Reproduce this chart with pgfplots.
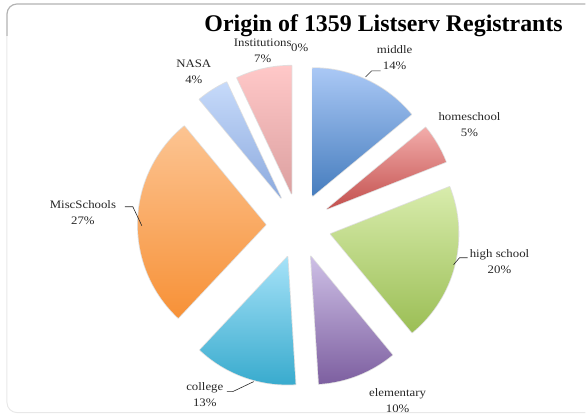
\documentclass[border=0pt]{standalone}
\usepackage{pgfplots}
\usepackage{pgfplotstable}
\pgfplotsset{compat=1.18}
\usepackage{fontspec}
\setmainfont{Liberation Serif}
\newfontfamily\lblfont[FakeStretch=1.12]{Liberation Serif}

% slice colours: lighter at the top, darker at the bottom
\definecolor{top0}{RGB}{170,200,245}\definecolor{bot0}{RGB}{70,125,190}
\definecolor{top1}{RGB}{242,172,170}\definecolor{bot1}{RGB}{195,80,78}
\definecolor{top2}{RGB}{216,236,172}\definecolor{bot2}{RGB}{155,190,85}
\definecolor{top3}{RGB}{206,192,230}\definecolor{bot3}{RGB}{125,95,160}
\definecolor{top4}{RGB}{166,226,248}\definecolor{bot4}{RGB}{55,170,205}
\definecolor{top5}{RGB}{252,196,146}\definecolor{bot5}{RGB}{247,145,55}
\definecolor{top6}{RGB}{198,218,250}\definecolor{bot6}{RGB}{140,170,222}
\definecolor{top7}{RGB}{255,200,200}\definecolor{bot7}{RGB}{220,160,160}

% percent of registrants, label position (px from left, px from bottom)
\pgfplotstableread{
name value lx ly
middle 14 395 358
homeschool 5 470 291
{high school} 20 500 154
elementary 10 398 15
college 13 205 21
MiscSchools 27 83 203
NASA 4 194 344
Institutions 7 263 365
}\piedata

\tikzset{lbl/.style={align=center, text=black!85, inner sep=0.5bp,
  font=\lblfont\fontsize{11.5}{16}\selectfont}}

\begin{document}
\begin{tikzpicture}
\begin{axis}[
  scale only axis, width=586bp, height=416bp,
  xmin=0, xmax=586, ymin=0, ymax=416,
  hide axis, clip=false]

\path (axis cs:0,0) rectangle (axis cs:586,416);
% chart frame
\draw[gray!18, line width=1bp, rounded corners=10bp]
  (axis cs:7,380) -- (axis cs:7,3) -- (axis cs:586,3);
\draw[gray!60, line width=1.2bp, rounded corners=10bp]
  (axis cs:7,380) -- (axis cs:7,412) -- (axis cs:586,412);

\node[anchor=base, inner sep=0.5bp, font=\bfseries\fontsize{24}{28}\selectfont]
  at (axis cs:384,384) {Origin of 1359 Listserv Registrants};

% exploded pie, centre (299,190), radius 128, explode 33
\xdef\cum{0}
\pgfplotsinvokeforeach{0,...,7}{
  \pgfplotstablegetelem{#1}{value}\of\piedata
  \let\val\pgfplotsretval
  \pgfmathsetmacro\a{90-3.6*\cum}
  \pgfmathsetmacro\b{90-3.6*(\cum+\val)}
  \pgfmathsetmacro\cx{299+33*cos((\a+\b)/2)}
  \pgfmathsetmacro\cy{190+33*sin((\a+\b)/2)}
  \edef\tmp{\noexpand\draw[black!12, line width=1.6bp, line join=round]
    (axis cs:\cx,\cy) -- ++(\a:128bp) arc[start angle=\a, end angle=\b, radius=128bp] -- cycle;
    \noexpand\shade[top color=top#1, bottom color=bot#1]
    (axis cs:\cx,\cy) -- ++(\a:128bp) arc[start angle=\a, end angle=\b, radius=128bp] -- cycle;}
  \tmp
  \pgfmathsetmacro\cumnew{\cum+\val}
  \xdef\cum{\cumnew}
  \pgfplotstablegetelem{#1}{name}\of\piedata
  \let\nm\pgfplotsretval
  \pgfplotstablegetelem{#1}{lx}\of\piedata
  \let\lx\pgfplotsretval
  \pgfplotstablegetelem{#1}{ly}\of\piedata
  \let\ly\pgfplotsretval
  \edef\tmp{\noexpand\node[lbl] at (axis cs:\lx,\ly) {\nm\noexpand\\\val\noexpand\%};}
  \tmp
}
\node[lbl] at (axis cs:300,368) {0\%};

% leader lines
\draw[black!85, line width=0.6bp] (axis cs:366,339) -- (axis cs:372,345) -- (axis cs:381,345);
\draw[black!85, line width=0.6bp] (axis cs:454,151) -- (axis cs:460,158) -- (axis cs:468,158);
\draw[black!85, line width=0.6bp] (axis cs:254,34) -- (axis cs:233,24) -- (axis cs:227,24);
\draw[black!85, line width=0.6bp] (axis cs:142,190) -- (axis cs:133,209) -- (axis cs:125,209);
\end{axis}
\end{tikzpicture}
\end{document}
